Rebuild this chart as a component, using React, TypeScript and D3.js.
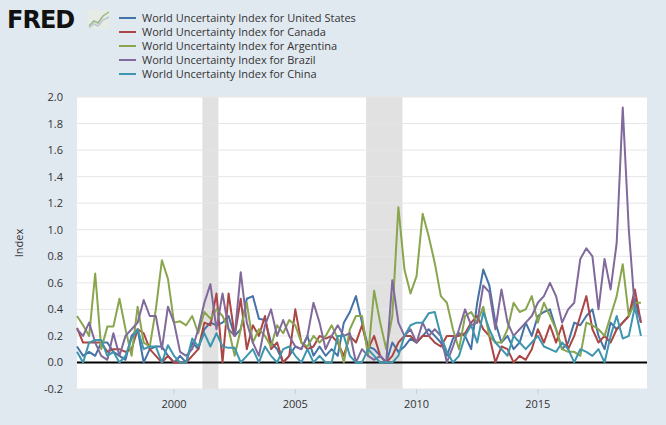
import React from 'react';
import * as d3 from 'd3';

const seriesNames = [
  'World Uncertainty Index for United States',
  'World Uncertainty Index for Canada',
  'World Uncertainty Index for Argentina',
  'World Uncertainty Index for Brazil',
  'World Uncertainty Index for China',
];
const colors = ['#4572a7', '#aa4643', '#89a54e', '#80699b', '#3d96ae'];

// quarterly, starting 1996Q1
const us = [0.12,0.05,0.08,0.05,0.15,0.15,0.08,0.05,0.02,0.2,0.25,0.0,0.1,0.12,0.12,0.05,0.0,0.05,0.0,0.15,0.1,0.25,0.3,0.28,0.3,0.35,0.2,0.25,0.48,0.5,0.33,0.32,0.15,0.1,0.0,0.05,0.12,0.1,0.2,0.05,0.12,0.05,0.1,0.05,0.3,0.38,0.5,0.3,0.12,0.1,0.05,0.0,0.15,0.08,0.12,0.18,0.15,0.2,0.25,0.2,0.15,0.05,0.18,0.22,0.2,0.1,0.45,0.7,0.58,0.3,0.15,0.2,0.1,0.15,0.3,0.2,0.35,0.38,0.4,0.25,0.1,0.15,0.3,0.28,0.35,0.4,0.2,0.1,0.3,0.25,0.3,0.35,0.48,0.3];
const canada = [0.26,0.15,0.15,0.15,0.15,0.08,0.1,0.1,0.08,0.1,0.25,0.22,0.1,0.05,0.0,0.05,0.0,0.0,0.0,0.05,0.1,0.3,0.28,0.52,0.0,0.52,0.2,0.48,0.1,0.28,0.2,0.35,0.1,0.15,0.0,0.05,0.4,0.15,0.1,0.12,0.2,0.18,0.2,0.15,0.05,0.2,0.15,0.28,0.1,0.2,0.05,0.0,0.05,0.15,0.2,0.2,0.15,0.2,0.2,0.15,0.12,0.2,0.2,0.2,0.22,0.3,0.35,0.25,0.2,0.0,0.12,0.1,0.0,0.05,0.02,0.1,0.25,0.15,0.28,0.15,0.28,0.1,0.2,0.35,0.5,0.25,0.15,0.2,0.15,0.25,0.3,0.35,0.55,0.3];
const argentina = [0.35,0.28,0.2,0.67,0.1,0.27,0.27,0.48,0.25,0.05,0.42,0.15,0.12,0.4,0.77,0.63,0.3,0.31,0.28,0.35,0.22,0.38,0.33,0.4,0.35,0.25,0.05,0.25,0.45,0.15,0.25,0.2,0.12,0.28,0.22,0.32,0.28,0.15,0.12,0.2,0.15,0.2,0.28,0.18,0.0,0.25,0.35,0.35,0.05,0.54,0.3,0.1,0.35,1.17,0.7,0.52,0.65,1.12,0.95,0.75,0.5,0.45,0.25,0.1,0.35,0.38,0.3,0.42,0.2,0.15,0.15,0.25,0.45,0.38,0.4,0.5,0.3,0.45,0.35,0.25,0.1,0.08,0.08,0.05,0.3,0.28,0.25,0.2,0.35,0.5,0.74,0.35,0.45,0.45];
const brazil = [0.25,0.2,0.3,0.15,0.05,0.02,0.22,0.05,0.2,0.25,0.3,0.47,0.35,0.35,0.1,0.42,0.3,0.08,0.05,0.1,0.25,0.45,0.59,0.25,0.52,0.25,0.2,0.68,0.3,0.15,0.05,0.28,0.4,0.2,0.32,0.2,0.12,0.1,0.2,0.45,0.3,0.1,0.2,0.28,0.2,0.22,0.0,0.1,0.05,0.02,0.05,0.0,0.62,0.3,0.2,0.25,0.15,0.3,0.2,0.25,0.2,0.0,0.12,0.25,0.4,0.28,0.3,0.58,0.53,0.25,0.55,0.3,0.2,0.25,0.3,0.35,0.45,0.5,0.6,0.5,0.3,0.4,0.45,0.78,0.86,0.8,0.4,0.78,0.55,0.9,1.92,1.0,0.4,0.33];
const china = [0.08,0.0,0.15,0.17,0.17,0.05,0.08,0.0,0.05,0.18,0.25,0.1,0.12,0.12,0.0,0.13,0.05,0.0,0.0,0.18,0.12,0.22,0.12,0.22,0.12,0.11,0.11,0.0,0.05,0.1,0.0,0.12,0.05,0.0,0.1,0.12,0.05,0.0,0.1,0.0,0.05,0.0,0.0,0.2,0.2,0.05,0.0,0.0,0.1,0.05,0.0,0.0,0.0,0.05,0.2,0.28,0.3,0.3,0.37,0.38,0.2,0.08,0.0,0.05,0.2,0.28,0.15,0.38,0.25,0.15,0.1,0.05,0.2,0.15,0.1,0.15,0.2,0.12,0.1,0.08,0.15,0.1,0.0,0.1,0.08,0.05,0.1,0.0,0.2,0.35,0.18,0.2,0.42,0.2];
const allSeries = [us, canada, argentina, brazil, china];

const recessions: [number, number][] = [[2001.17, 2001.83], [2007.92, 2009.42]];
const yTicks = [-0.2, 0, 0.2, 0.4, 0.6, 0.8, 1.0, 1.2, 1.4, 1.6, 1.8, 2.0];
const xTicks = [2000, 2005, 2010, 2015];

const W = 666, H = 425;
const left = 77, right = 647, top = 97, bottom = 389;

export default function App() {
  const x = d3.scaleLinear().domain([1996, 2019.5]).range([left, right]);
  const y = d3.scaleLinear().domain([-0.2, 2.0]).range([bottom, top]);
  const line = d3.line<number>().x((_, i) => x(1996 + i * 0.25)).y(d => y(d));
  const font = '"Open Sans", "DejaVu Sans", sans-serif';
  return (
    <svg width={W} height={H} style={{ position: 'absolute', left: 0, top: 0 }} fontFamily={font}>
      <rect width={W} height={H} fill="#e1e9f0" />
      <rect x={left} y={top} width={right - left} height={bottom - top} fill="#fff" />
      {recessions.map(([a, b], i) => (
        <rect key={i} x={x(a)} y={top} width={x(b) - x(a)} height={bottom - top} fill="#e1e1e1" />
      ))}
      {yTicks.map(t => (
        <g key={t}>
          <line x1={left} x2={right} y1={y(t)} y2={y(t)} stroke="#e6e6e6" />
          <text x={left - 14} y={y(t) + 4} textAnchor="end" fontSize={11} fill="#333">{t.toFixed(1)}</text>
        </g>
      ))}
      {xTicks.map(t => (
        <g key={t}>
          <line x1={x(t)} x2={x(t)} y1={bottom} y2={bottom + 5} stroke="#c0d0e0" />
          <text x={x(t)} y={bottom + 19} textAnchor="middle" fontSize={11} fill="#333">{t}</text>
        </g>
      ))}
      <line x1={left} x2={right} y1={y(0)} y2={y(0)} stroke="#000" strokeWidth={2} />
      {allSeries.map((s, i) => (
        <path key={i} d={line(s) || ''} fill="none" stroke={colors[i]} strokeWidth={2} strokeLinejoin="round" />
      ))}
      <text transform={`translate(23,${(top + bottom) / 2}) rotate(-90)`} textAnchor="middle" fontSize={11} fill="#333">Index</text>
      <text x={7} y={28} fontSize={24} fontWeight="900" fill="#111" fontFamily="'DejaVu Sans', sans-serif" letterSpacing={-1}>FRED</text>
      <g transform="translate(88,10)">
        <rect width={22} height={19} fill="#e6ebe6" />
        <polyline points="1,16 6,11 10,13 15,6 21,2" fill="none" stroke="#9bb58a" strokeWidth={1.5} />
        <polyline points="1,18 6,14 10,16 15,10 21,7" fill="none" stroke="#b9c7d3" strokeWidth={1.5} />
      </g>
      {seriesNames.map((n, i) => (
        <g key={n} transform={`translate(119,${18 + i * 14})`}>
          <line x1={0} x2={17} y1={0} y2={0} stroke={colors[i]} strokeWidth={2} />
          <text x={23} y={4} fontSize={11} fill="#333">{n}</text>
        </g>
      ))}
    </svg>
  );
}
